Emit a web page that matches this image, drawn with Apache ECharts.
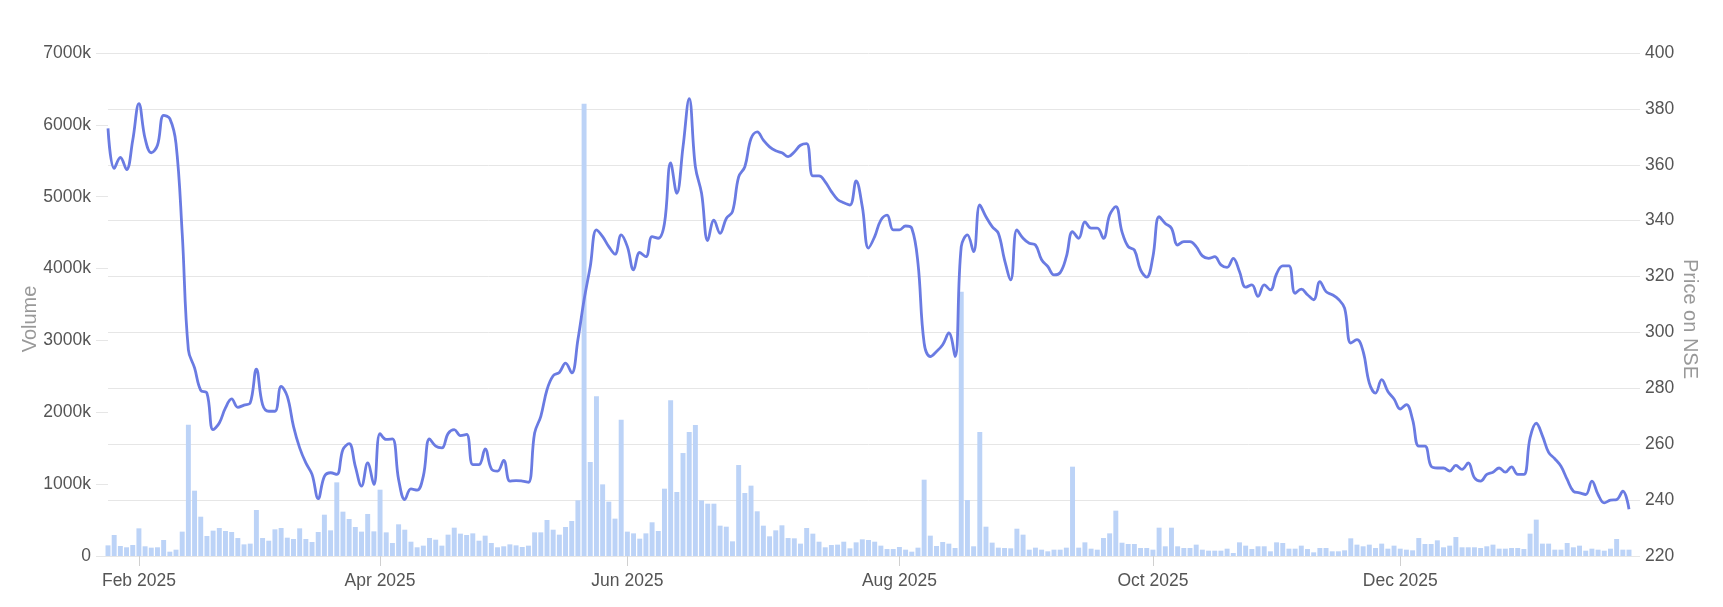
<!DOCTYPE html>
<html>
<head>
<meta charset="utf-8">
<title>Volume and price on NSE</title>
<script src="https://cdn.jsdelivr.net/npm/echarts@6.0.0/dist/echarts.min.js"></script>
<style>
  html, body { margin: 0; padding: 0; background: #fff; }
  #chart { width: 1723px; height: 607px; }
</style>
</head>
<body>
<div id="chart"></div>
<script>
// trading days: weekdays from first to last day, minus NSE holidays, plus the budget-day session
const firstDay = '2025-01-27'
const lastDay = '2026-01-23'
const holidays = ['2025-02-26', '2025-03-14', '2025-03-31', '2025-04-10', '2025-04-14', '2025-04-18',
  '2025-05-01', '2025-08-15', '2025-08-27', '2025-10-02', '2025-10-22', '2025-11-05',
  '2025-12-25', '2026-01-15']
const specialSessions = ['2025-02-01']
const monthNames = ['Jan', 'Feb', 'Mar', 'Apr', 'May', 'Jun', 'Jul', 'Aug', 'Sep', 'Oct', 'Nov', 'Dec']
// months that get a label on the x axis (0 = Jan)
const labelMonths = [1, 3, 5, 7, 9, 11]

// volume, in thousands of shares
const volumeK = [
  148, 292, 139, 121, 153, 385, 135, 116, 121, 223,
  60, 88, 339, 1828, 909, 547, 278, 353, 390, 348,
  334, 250, 162, 172, 640, 250, 213, 371, 390, 255,
  237, 385, 237, 195, 334, 575, 357, 1025, 617, 515,
  404, 339, 585, 343, 923, 329, 181, 441, 366, 199,
  121, 144, 251, 227, 144, 297, 394, 311, 292, 315,
  213, 283, 181, 121, 135, 162, 148, 125, 144, 329,
  329, 501, 366, 297, 404, 487, 775, 6295, 1308, 2222,
  997, 756, 520, 1897, 339, 315, 241, 315, 469, 348,
  937, 2166, 891, 1433, 1726, 1823, 775, 728, 728, 422,
  408, 204, 1266, 877, 979, 622, 422, 274, 357, 427,
  250, 246, 172, 390, 311, 199, 121, 153, 158, 199,
  107, 190, 232, 223, 199, 144, 97, 97, 125, 88,
  60, 116, 1062, 283, 139, 195, 172, 111, 3679, 779,
  135, 1726, 408, 186, 116, 111, 107, 380, 297, 88,
  116, 88, 65, 88, 88, 116, 1243, 116, 190, 102,
  88, 250, 315, 631, 185, 167, 167, 111, 111, 88,
  394, 135, 394, 135, 111, 111, 158, 88, 74, 74,
  74, 102, 42, 190, 144, 97, 135, 135, 65, 190,
  181, 102, 102, 144, 97, 51, 111, 111, 65, 65,
  79, 246, 158, 135, 158, 111, 172, 102, 144, 102,
  88, 79, 250, 167, 167, 218, 121, 144, 264, 121,
  121, 121, 111, 135, 158, 102, 102, 111, 111, 97,
  311, 506, 172, 172, 88, 88, 181, 121, 144, 74,
  102, 88, 74, 102, 237, 88, 88
]

// closing price on NSE
const price = [
  373.0, 358.7, 362.6, 358.3, 368.8, 381.9, 369.4, 364.3, 367.0, 377.7,
  376.5, 367.6, 335.5, 293.8, 287.3, 279.3, 278.3, 265.2, 267.6, 273.0,
  276.2, 273.2, 274.0, 274.8, 286.9, 274.2, 271.8, 271.8, 280.7, 277.1,
  266.4, 258.7, 253.3, 249.2, 240.5, 248.5, 249.8, 249.2, 258.1, 260.2,
  252.1, 245.0, 253.3, 245.6, 263.8, 261.7, 261.9, 247.4, 240.2, 244.0,
  243.6, 248.6, 261.9, 259.3, 258.7, 263.8, 265.2, 263.1, 263.5, 252.7,
  252.7, 258.3, 251.2, 250.4, 254.2, 246.8, 247.0, 246.8, 246.4, 264.0,
  270.0, 279.5, 284.5, 285.7, 289.0, 285.5, 297.4, 311.7, 323.6, 336.7,
  334.3, 330.7, 328.0, 334.9, 330.7, 322.4, 328.6, 327.1, 334.3, 333.7,
  339.0, 360.7, 349.8, 366.4, 383.7, 359.3, 349.8, 332.9, 340.2, 335.5,
  340.8, 343.2, 355.7, 359.3, 369.4, 371.8, 368.8, 366.4, 365.0, 364.3,
  362.9, 364.6, 367.0, 367.6, 356.0, 356.0, 353.9, 350.4, 347.6, 346.4,
  345.6, 354.2, 345.0, 330.2, 334.3, 340.2, 342.0, 336.7, 336.7, 338.1,
  337.3, 324.8, 296.2, 291.4, 293.2, 295.6, 299.8, 291.4, 330.7, 334.9,
  328.9, 345.6, 341.4, 337.9, 335.5, 326.0, 318.8, 336.7, 333.7, 331.9,
  331.3, 326.0, 323.6, 320.6, 321.4, 327.1, 336.1, 333.7, 339.6, 337.3,
  337.3, 333.7, 342.0, 345.0, 336.0, 330.7, 329.5, 322.4, 319.8, 327.1,
  341.4, 339.0, 337.3, 331.3, 332.5, 332.5, 330.7, 327.4, 326.5, 327.1,
  324.2, 323.3, 326.5, 321.8, 316.2, 317.0, 312.9, 317.0, 315.2, 321.0,
  323.8, 323.8, 314.0, 315.5, 313.5, 311.7, 318.2, 314.6, 313.5, 311.9,
  308.7, 296.2, 297.4, 293.2, 281.9, 278.3, 283.1, 278.9, 276.2, 272.6,
  274.2, 268.8, 259.3, 259.3, 252.1, 251.5, 251.5, 250.4, 252.4, 251.0,
  253.3, 248.0, 246.8, 249.2, 250.0, 251.5, 250.0, 251.9, 249.2, 249.2,
  262.3, 267.5, 263.0, 257.1, 254.8, 252.1, 247.4, 243.2, 242.6, 242.0,
  246.8, 242.0, 239.0, 240.0, 240.2, 243.2, 236.7
]

// build the list of trading dates
const dates = []
for (let d = new Date(firstDay + 'T00:00:00Z'); d <= new Date(lastDay + 'T00:00:00Z'); d.setUTCDate(d.getUTCDate() + 1)) {
  const key = d.toISOString().slice(0, 10)
  const wd = d.getUTCDay()
  if (specialSessions.includes(key) || (wd !== 0 && wd !== 6 && !holidays.includes(key))) {
    dates.push(key)
  }
}

// label only the first trading day of every other month
const showLabel = (index) => {
  if (index === 0) return false
  const m = Number(dates[index].slice(5, 7)) - 1
  return dates[index].slice(0, 7) !== dates[index - 1].slice(0, 7) && labelMonths.includes(m)
}

const fontFamily = '"Liberation Sans", Arial, sans-serif'
const gridColor = '#e6e6e6'
const labelColor = '#555'
const nameColor = '#999'

const chart = echarts.init(document.getElementById('chart'))
chart.setOption({
  animation: false,
  textStyle: { fontFamily: fontFamily },
  grid: { left: 108, right: 94, top: 53, bottom: 51 },
  xAxis: {
    type: 'category',
    data: dates,
    boundaryGap: false,
    axisLine: { show: true, lineStyle: { color: gridColor } },
    axisTick: { show: true, interval: showLabel, length: 10, lineStyle: { color: '#d0d0d0' } },
    axisLabel: {
      interval: showLabel,
      margin: 16,
      color: labelColor,
      fontSize: 17.5,
      fontFamily: fontFamily,
      formatter: (v) => monthNames[Number(v.slice(5, 7)) - 1] + ' ' + v.slice(0, 4)
    },
    splitLine: { show: false }
  },
  yAxis: [
    {
      // volume, left
      type: 'value',
      min: 0,
      max: 7000,
      interval: 1000,
      name: 'Volume',
      nameLocation: 'middle',
      nameRotate: 90,
      nameGap: 68,
      nameMoveOverlap: false,
      // right padding pushes the rotated text down a little
      nameTextStyle: { color: nameColor, fontSize: 20, fontFamily: fontFamily, padding: [0, 29, 0, 0] },
      axisLine: { show: false },
      axisTick: { show: true, length: 12, lineStyle: { color: gridColor } },
      splitLine: { show: false },
      axisLabel: {
        margin: 17,
        color: labelColor,
        fontSize: 17.5,
        fontFamily: fontFamily,
        formatter: (v) => v === 0 ? '0' : v + 'k'
      }
    },
    {
      // price, right
      type: 'value',
      position: 'right',
      min: 220,
      max: 400,
      interval: 20,
      name: 'Price on NSE',
      nameLocation: 'middle',
      nameRotate: -90,
      nameGap: 51,
      nameMoveOverlap: false,
      nameTextStyle: { color: nameColor, fontSize: 20, fontFamily: fontFamily, padding: [0, 0, 0, 29] },
      axisLine: { show: false },
      axisTick: { show: true, length: 11, lineStyle: { color: gridColor } },
      splitLine: { show: true, lineStyle: { color: gridColor, width: 1 } },
      axisLabel: { margin: 16, color: labelColor, fontSize: 17.5, fontFamily: fontFamily }
    }
  ],
  series: [
    {
      name: 'Volume',
      type: 'bar',
      yAxisIndex: 0,
      data: volumeK,
      barWidth: '80%',
      clip: true,
      itemStyle: { color: '#bcd3f7' }
    },
    {
      name: 'Price',
      type: 'line',
      yAxisIndex: 1,
      data: price,
      smooth: 0.4,
      showSymbol: false,
      lineStyle: { color: '#6a7be2', width: 2.8 },
      z: 3
    }
  ]
})
</script>
</body>
</html>
